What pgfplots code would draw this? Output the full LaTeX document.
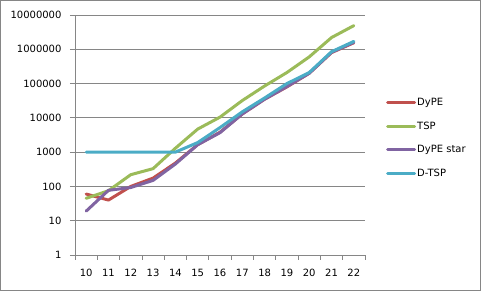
\documentclass[border=0pt]{standalone}
\usepackage{pgfplots}
\pgfplotsset{compat=1.18}
\usepackage{fontspec}
\setmainfont{DejaVu Sans}
\definecolor{cRed}{RGB}{192,80,77}
\definecolor{cGreen}{RGB}{155,187,89}
\definecolor{cPurple}{RGB}{128,100,162}
\definecolor{cBlue}{RGB}{75,172,198}
\definecolor{cGrid}{RGB}{134,134,134}
\begin{document}
\begin{tikzpicture}
\useasboundingbox (0pt,0pt) rectangle (481pt,291pt);
\draw[cGrid, line width=1pt] (0.5pt,0.5pt) rectangle (480.5pt,290.5pt);
\begin{axis}[
  at={(75pt,36pt)}, anchor=south west,
  scale only axis, width=290pt, height=240pt,
  xmin=9.5, xmax=22.5,
  ymode=log, ymin=1, ymax=10000000,
  axis lines*=left,
  axis line style={cGrid, line width=0.8pt},
  xtick={10,...,22},
  xticklabels={10,11,12,13,14,15,16,17,18,19,20,21,22},
  major x tick style={draw=none},
  minor xtick={9.5,10.5,...,22.5},
  minor x tick style={cGrid, line width=0.8pt},
  minor tick length=5pt,
  tick align=outside,
  major tick length=5pt,
  ytick={1,10,100,1000,10000,100000,1000000,10000000},
  yticklabels={1,10,100,1000,10000,100000,1000000,10000000},
  y tick style={cGrid, line width=0.8pt},
  ymajorgrids, grid style={cGrid, line width=0.8pt},
  yminorticks=false,
  tick label style={font=\fontsize{10}{12}\selectfont, text=black},
  xticklabel style={yshift=-6pt},
  yticklabel style={xshift=-5pt},
  every axis plot/.append style={line width=3pt, mark=none, line join=round, line cap=round},
  legend style={at={(1.062,0.665)}, anchor=north west, draw=none, fill=none,
    font=\fontsize{10}{12}\selectfont, row sep=12.5pt,
    nodes={inner sep=1pt, anchor=west}},
  legend cell align=left,
  legend image code/.code={\draw[#1, line width=3pt] (0pt,0pt) -- (27pt,0pt);},
]
\addplot[color=cRed] coordinates {(10,60) (11,40) (12,100) (13,175) (14,480) (15,1650) (16,3800) (17,13000) (18,35000) (19,80000) (20,200000) (21,800000) (22,1550000)};
\addlegendentry{DyPE}
\addplot[color=cGreen] coordinates {(10,45) (11,75) (12,220) (13,330) (14,1300) (15,4700) (16,10500) (17,32000) (18,85000) (19,210000) (20,600000) (21,2200000) (22,4900000)};
\addlegendentry{TSP}
\addplot[color=cPurple] coordinates {(10,19) (11,77) (12,93) (13,150) (14,450) (15,1650) (16,3700) (17,13000) (18,35000) (19,82000) (20,200000) (21,820000) (22,1600000)};
\addlegendentry{DyPE star}
\addplot[color=cBlue] coordinates {(10,1000) (11,1000) (12,1000) (13,1000) (14,1000) (15,1900) (16,5200) (17,15000) (18,38000) (19,100000) (20,210000) (21,850000) (22,1700000)};
\addlegendentry{D-TSP}
\end{axis}
\end{tikzpicture}
\end{document}
